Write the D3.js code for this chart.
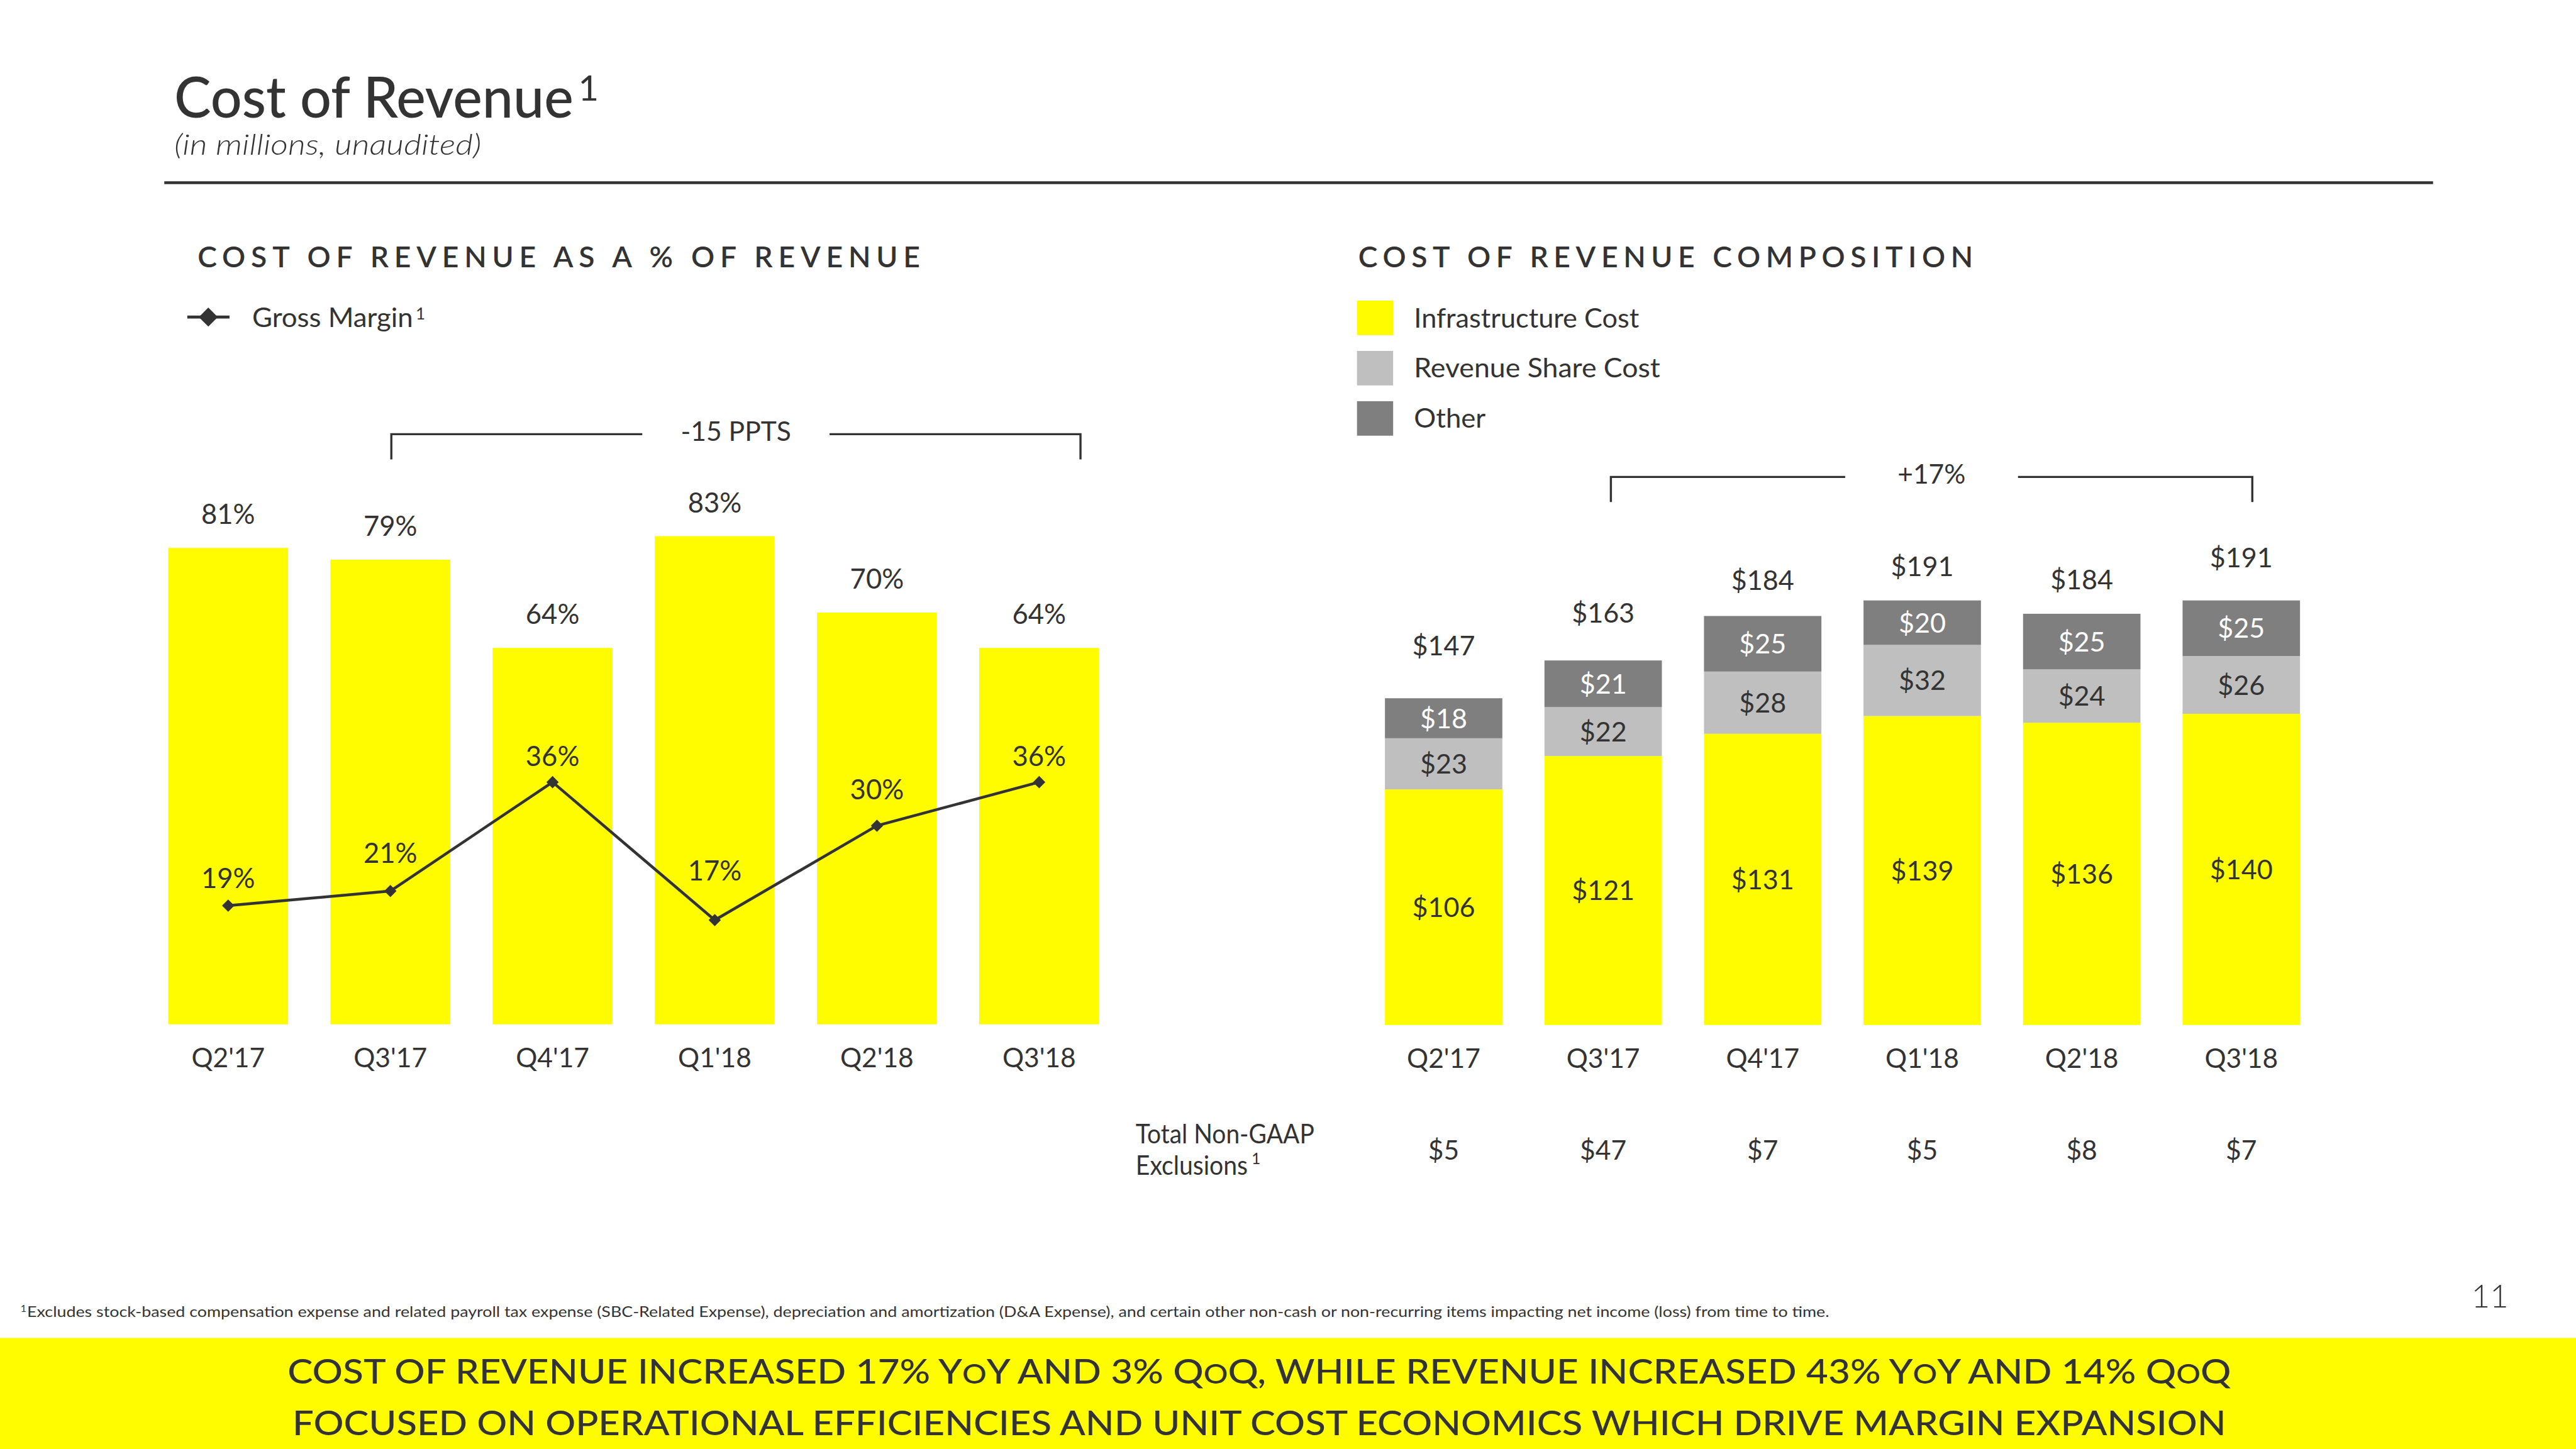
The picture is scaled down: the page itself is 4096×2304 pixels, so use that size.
<!DOCTYPE html>
<html><head><meta charset="utf-8">
<script src="https://cdn.jsdelivr.net/npm/d3@7"></script>
<style>
html,body{margin:0;padding:0;background:#fff;overflow:hidden}
svg{display:block}
text{font-family:Lato,"Open Sans","DejaVu Sans",sans-serif}
</style></head><body>
<script>
// ---------------- DATA ----------------
const quarters = ["Q2'17","Q3'17","Q4'17","Q1'18","Q2'18","Q3'18"];
const costPctOfRevenue = [81,79,64,83,70,64];
const grossMargin = [19,21,36,17,30,36];
const infrastructureCost = [106,121,131,139,136,140];
const revenueShareCost = [23,22,28,32,24,26];
const otherCost = [18,21,25,20,25,25];
const totalCost = [147,163,184,191,184,191];
const nonGaapExclusions = [5,47,7,5,8,7];
const compositionSeries = ["Infrastructure Cost","Revenue Share Cost","Other"];
const bracketLabels = ["-15 PPTS","+17%"];

// ---------------- LAYOUT (view units of a 1568x882 frame) ----------------
const W = 1568, H = 882;
const INK = "#333333", YELLOW = "#FFFC00", LIGHT = "#BFBFBF", DARK = "#7F7F7F";
const gmLabelLift = [10.6,17,10,24,16,10];
const totalLabelLift = [26,23,16,15,15,20];

const svg = d3.select("body").append("svg")
  .attr("width",4096).attr("height",2304)
  .attr("viewBox",`0 0 ${W} ${H}`);
svg.append("rect").attr("width",W).attr("height",H).attr("fill","#fff");

function txt(parent, x, y, s, o = {}) {
  const t = parent.append("text").attr("x",x).attr("y",y).text(s)
    .attr("font-size", o.size || 16.5).attr("font-weight", o.weight || 400)
    .attr("text-anchor", o.anchor || "start").attr("fill", o.fill || INK);
  if (o.style) t.attr("font-style", o.style);
  return t;
}
// letter-spaced fit (for tracked caps headers)
function fit(t, target) {
  const n = t.node();
  const w = n.getComputedTextLength();
  const len = [...n.textContent].length;
  if (len > 1) t.attr("letter-spacing", ((target - w) / (len - 1)).toFixed(3));
  return t;
}
// horizontal stretch fit (for untracked text set in a wider face)
function stretch(t, target) {
  const n = t.node();
  const w = n.getComputedTextLength();
  const s = target / w;
  const x = +t.attr("x"), y = +t.attr("y");
  t.attr("x",0).attr("y",0).attr("transform",`translate(${x},${y}) scale(${s.toFixed(4)},1)`);
  return t;
}

// ---------------- HEADER ----------------
stretch(txt(svg,106,71.5,"Cost of Revenue",{size:35,weight:500}),243);
txt(svg,352,61.2,"1",{size:21.5,weight:400});
stretch(txt(svg,106,94,"(in millions, unaudited)",{size:17,weight:300,style:"italic"}),187);
svg.append("line").attr("x1",100).attr("x2",1481).attr("y1",111.2).attr("y2",111.2)
  .attr("stroke",INK).attr("stroke-width",1.7);

fit(txt(svg,120.3,162.7,"COST OF REVENUE AS A % OF REVENUE",{size:17.7,weight:600}),439.7);
fit(txt(svg,826.8,162.8,"COST OF REVENUE COMPOSITION",{size:17.7,weight:600}),374.2);

// ---------------- LEFT CHART ----------------
const gL = svg.append("g");
const xL = d3.scaleBand().domain(quarters).range([102.4,669]).paddingInner(0.261).paddingOuter(0);
const yL = d3.scaleLinear().domain([0,100]).range([623.5,265.5]);
const yGM = d3.scaleLinear().domain([0,100]).range([635.2,193.2]);
const cxL = q => xL(q) + xL.bandwidth()/2;

gL.selectAll("rect.bar").data(costPctOfRevenue).join("rect").attr("class","bar")
  .attr("x",(d,i)=>xL(quarters[i])).attr("y",d=>yL(d))
  .attr("width",xL.bandwidth()).attr("height",d=>yL(0)-yL(d)).attr("fill",YELLOW);

gL.selectAll("text.barlab").data(costPctOfRevenue).join("text").attr("class","barlab")
  .attr("x",(d,i)=>cxL(quarters[i])).attr("y",d=>yL(d)-14.5)
  .attr("text-anchor","middle").attr("font-size",16.7).attr("fill",INK)
  .text(d=>d+"%");

const gmLine = d3.line().x((d,i)=>cxL(quarters[i])).y(d=>yGM(d));
gL.append("path").datum(grossMargin).attr("d",gmLine)
  .attr("fill","none").attr("stroke",INK).attr("stroke-width",1.7).attr("stroke-linejoin","round");
const diamond = d3.symbol(d3.symbolSquare, 28);
gL.selectAll("path.mk").data(grossMargin).join("path").attr("class","mk")
  .attr("d",diamond).attr("fill",INK)
  .attr("transform",(d,i)=>`translate(${cxL(quarters[i])},${yGM(d)}) rotate(45)`);
gL.selectAll("text.gmlab").data(grossMargin).join("text").attr("class","gmlab")
  .attr("x",(d,i)=>cxL(quarters[i])).attr("y",(d,i)=>yGM(d)-gmLabelLift[i])
  .attr("text-anchor","middle").attr("font-size",16.7).attr("fill",INK)
  .text(d=>d+"%");

const axL = gL.append("g").attr("transform",`translate(0,${yL(0)})`)
  .call(d3.axisBottom(xL).tickSize(0));
axL.select(".domain").remove();
axL.selectAll("text").attr("y",26).attr("dy",0).attr("font-size",16.3)
  .attr("font-family","Lato, 'Open Sans', sans-serif").attr("fill",INK);

// left legend
svg.append("line").attr("x1",114).attr("x2",139.7).attr("y1",193).attr("y2",193)
  .attr("stroke",INK).attr("stroke-width",1.8);
svg.append("path").attr("d",d3.symbol(d3.symbolSquare,67)).attr("fill",INK)
  .attr("transform","translate(126.8,193) rotate(45)");
stretch(txt(svg,153.5,199,"Gross Margin",{size:16.5}),97.9);
txt(svg,253,194.5,"1",{size:10});

// brackets
function bracket(x1, x2, y, drop, label, halfGap, labelY) {
  const cx = (x1 + x2) / 2;
  const g = svg.append("g").attr("stroke",INK).attr("stroke-width",1.3).attr("fill","none");
  g.append("path").attr("d",`M${x1},${y+drop}V${y}H${cx-halfGap}`);
  g.append("path").attr("d",`M${cx+halfGap},${y}H${x2}V${y+drop}`);
  txt(svg,cx,labelY,label,{size:16.3,anchor:"middle"});
}
bracket(cxL("Q3'17")+0.6, xL("Q3'18")+xL.bandwidth()*0.845, 264.3, 15.3, bracketLabels[0], 57, 268.3);

// ---------------- RIGHT CHART ----------------
const gR = svg.append("g");
const xR = d3.scaleBand().domain(quarters).range([843,1400]).paddingInner(0.264).paddingOuter(0);
const yR = d3.scaleLinear().domain([0,200]).range([623.9,353.3]);
const cxR = q => xR(q) + xR.bandwidth()/2;
const rows = quarters.map((q,i)=>({q, infra:infrastructureCost[i], share:revenueShareCost[i], other:otherCost[i]}));
const keys = ["infra","share","other"];
const fills = [YELLOW, LIGHT, DARK];
const labelFills = [INK, INK, "#ffffff"];
const stacked = d3.stack().keys(keys)(rows);

stacked.forEach((layer, li) => {
  gR.selectAll(`rect.s${li}`).data(layer).join("rect").attr("class",`s${li}`)
    .attr("x",d=>xR(d.data.q)).attr("y",d=>yR(d[1]))
    .attr("width",xR.bandwidth()).attr("height",d=>yR(d[0])-yR(d[1]))
    .attr("fill",fills[li]);
  gR.selectAll(`text.s${li}`).data(layer).join("text").attr("class",`s${li}`)
    .attr("x",d=>cxR(d.data.q)).attr("y",d=>(yR(d[0])+yR(d[1]))/2)
    .attr("dy","0.36em").attr("text-anchor","middle").attr("font-size",16.5)
    .attr("fill",labelFills[li]).text(d=>"$"+d.data[keys[li]]);
});
const topLayer = stacked[stacked.length-1];
gR.selectAll("text.tot").data(totalCost).join("text").attr("class","tot")
  .attr("x",(d,i)=>cxR(quarters[i])).attr("y",(d,i)=>yR(topLayer[i][1])-totalLabelLift[i])
  .attr("text-anchor","middle").attr("font-size",16.5).attr("fill",INK)
  .text(d=>"$"+d);

const axR = gR.append("g").attr("transform",`translate(0,${yR(0)})`)
  .call(d3.axisBottom(xR).tickSize(0));
axR.select(".domain").remove();
axR.selectAll("text").attr("y",26).attr("dy",0).attr("font-size",16.3)
  .attr("font-family","Lato, 'Open Sans', sans-serif").attr("fill",INK);

bracket(cxR("Q3'17")+4.7, cxR("Q3'18")+6.7, 290.3, 15.3, bracketLabels[1], 52.6, 294.3);

// right legend
compositionSeries.forEach((s,i)=>{
  const y0 = 183 + i*30.6;
  svg.append("rect").attr("x",826).attr("y",y0).attr("width",22).attr("height",21).attr("fill",fills[i]);
});
stretch(txt(svg,860.7,199.4,compositionSeries[0],{size:16.5}),137);
stretch(txt(svg,860.7,229.8,compositionSeries[1],{size:16.5}),149.9);
stretch(txt(svg,860.7,260.2,compositionSeries[2],{size:16.5}),43.6);

// non-GAAP row
stretch(txt(svg,691.3,696,"Total Non-GAAP",{size:16}),108.7);
stretch(txt(svg,691.3,715,"Exclusions",{size:16}),68.2);
txt(svg,761.8,708.5,"1",{size:9.5});
gR.selectAll("text.ng").data(nonGaapExclusions).join("text").attr("class","ng")
  .attr("x",(d,i)=>cxR(quarters[i])).attr("y",706)
  .attr("text-anchor","middle").attr("font-size",16.3).attr("fill",INK)
  .text(d=>"$"+d);

// ---------------- FOOTER ----------------
txt(svg,12.5,798.5,"1",{size:6});
stretch(txt(svg,16.5,801.5,"Excludes stock-based compensation expense and related payroll tax expense (SBC-Related Expense), depreciation and amortization (D&A Expense), and certain other non-cash or non-recurring items impacting net income (loss) from time to time.",{size:8.8}),1096.5);
txt(svg,1527,795.7,"11",{size:19.5,weight:300,anchor:"end"});

svg.append("rect").attr("x",0).attr("y",814.4).attr("width",W).attr("height",H-814.4).attr("fill",YELLOW);

function bannerLine(y, parts, target) {
  const t = svg.append("text").attr("x",766.5).attr("y",y).attr("text-anchor","middle")
    .attr("font-size",20.7).attr("font-weight",500).attr("fill",INK);
  parts.forEach(p => {
    const sp = t.append("tspan").text(p[0]);
    if (p[1]) sp.attr("font-size",16.5);
  });
  stretch(t, target);
}
bannerLine(842.3, [["COST OF REVENUE INCREASED 17% Y"],["O",1],["Y AND 3% Q"],["O",1],["Q, WHILE REVENUE INCREASED 43% Y"],["O",1],["Y AND 14% Q"],["O",1],["Q"]], 1183);
bannerLine(873.5, [["FOCUSED ON OPERATIONAL EFFICIENCIES AND UNIT COST ECONOMICS WHICH DRIVE MARGIN EXPANSION"]], 1177);
</script>
</body></html>
